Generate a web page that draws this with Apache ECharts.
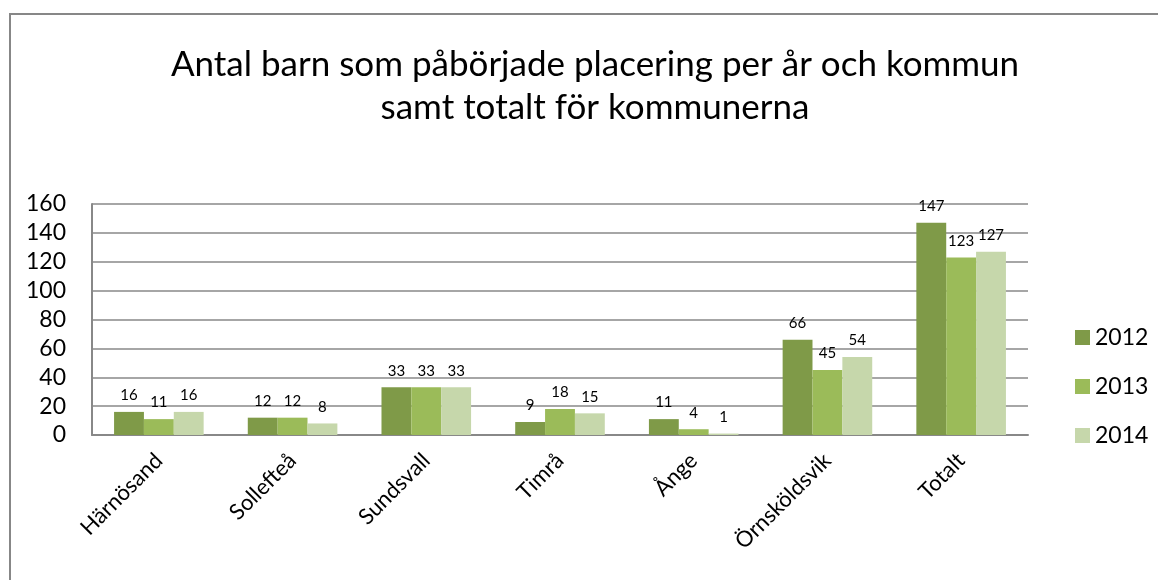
<!DOCTYPE html>
<html>
<head>
<meta charset="utf-8">
<script src="https://cdn.jsdelivr.net/npm/echarts@6/dist/echarts.min.js"></script>
<style>
  html, body { margin: 0; padding: 0; background: #fff; }
  #chart { width: 1158px; height: 580px; }
</style>
</head>
<body>
<div id="chart"></div>
<script>
var categories = ['Härnösand', 'Sollefteå', 'Sundsvall', 'Timrå', 'Ånge', 'Örnsköldsvik', 'Totalt'];
var years = ['2012', '2013', '2014'];
var values2012 = [16, 12, 33, 9, 11, 66, 147];
var values2013 = [11, 12, 33, 18, 4, 45, 123];
var values2014 = [16, 8, 33, 15, 1, 54, 127];
var colors = ['#7f9a48', '#9bbb59', '#c6d7ab'];

var font = 'Lato';
var chart = echarts.init(document.getElementById('chart'));

function makeSeries(name, data, color) {
  return {
    name: name,
    type: 'bar',
    data: data,
    barGap: '0%',
    barCategoryGap: '33%',
    itemStyle: { color: color },
    label: {
      show: true,
      position: 'top',
      distance: 9,
      color: '#000',
      fontSize: 15,
      fontFamily: font
    }
  };
}

var option = {
  animation: false,
  textStyle: { fontFamily: font },
  graphic: [
    {
      type: 'rect',
      shape: { x: 10, y: 14, width: 1200, height: 620 },
      style: { fill: 'none', stroke: '#878787', lineWidth: 2 },
      silent: true
    }
  ],
  title: {
    text: 'Antal barn som påbörjade placering per år och kommun\nsamt totalt för kommunerna',
    left: 590,
    textAlign: 'center',
    top: 38,
    textStyle: {
      fontFamily: font,
      fontSize: 35,
      fontWeight: 'normal',
      color: '#000',
      lineHeight: 43
    }
  },
  legend: {
    orient: 'vertical',
    left: 1070,
    top: 321,
    itemWidth: 15,
    itemHeight: 15,
    itemGap: 26,
    icon: 'rect',
    data: years,
    textStyle: { fontFamily: font, fontSize: 23, color: '#000' }
  },
  grid: { left: 92, right: 130, top: 204, bottom: 145 },
  xAxis: {
    type: 'category',
    data: categories,
    axisLine: { lineStyle: { color: '#888', width: 2 } },
    axisTick: { show: false },
    axisLabel: {
      rotate: 45,
      margin: 22,
      interval: 0,
      color: '#000',
      fontSize: 22,
      fontFamily: font
    }
  },
  yAxis: {
    type: 'value',
    min: 0,
    max: 160,
    interval: 20,
    axisLine: { show: true, lineStyle: { color: '#888', width: 2 } },
    axisTick: { show: false },
    splitLine: { lineStyle: { color: '#888', width: 1.5 } },
    axisLabel: { margin: 26, color: '#000', fontSize: 23, fontFamily: font }
  },
  series: [
    makeSeries(years[0], values2012, colors[0]),
    makeSeries(years[1], values2013, colors[1]),
    makeSeries(years[2], values2014, colors[2])
  ]
};

chart.setOption(option);
</script>
</body>
</html>
